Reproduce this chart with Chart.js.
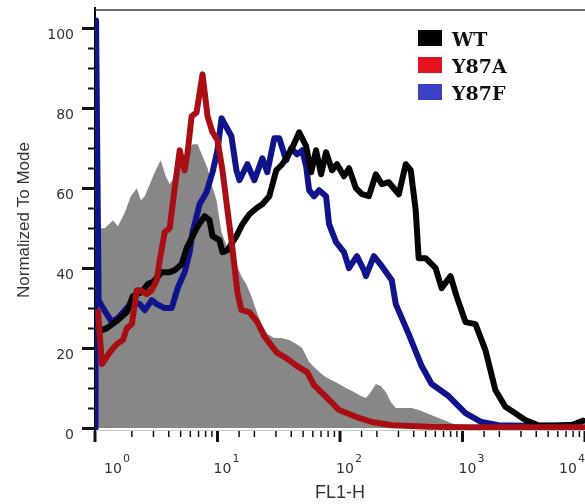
<!DOCTYPE html>
<html>
<head>
<meta charset="utf-8">
<script src="https://cdn.jsdelivr.net/npm/chart.js@4.4.1/dist/chart.umd.min.js"></script>
<style>
  html, body { margin: 0; padding: 0; background: #fff; }
  #wrap { width: 585px; height: 504px; position: relative; }
</style>
</head>
<body>
<div id="wrap"><canvas id="histChart"></canvas></div>
<script>
// FL1-H values (x) and % of mode (y)
const ctrlX = [1.0, 1.02, 1.206, 1.401, 1.538, 1.754, 1.962, 2.195, 2.366, 2.55, 2.8, 3.075, 3.44, 3.778, 4.072, 4.729, 5.494, 6.263, 6.878, 7.551, 8.294, 8.938, 9.815, 10.78, 12.06, 13.75, 15.67, 17.21, 18.9, 20.37, 22.8, 25.5, 29.07, 33.14, 38.49, 43.88, 49.11, 55.98, 65.02, 74.13, 84.51, 98.15, 111.9, 130, 148.2, 162.7, 178.6, 196.2, 215.4, 236.6, 259.8, 285.3, 331.4, 384.9, 438.8, 529.2, 638.2, 769.6, 928, 1119, 10000];
const ctrlY = [50, 50, 50, 52, 50.5, 54, 58, 60, 57, 58, 61, 64, 67, 63, 61, 64, 68, 71, 71, 68, 65, 61, 57, 49, 45, 42, 38, 36, 33, 30, 26, 23.5, 22.5, 22.5, 22, 21, 20, 16.5, 14.5, 13, 12, 11, 10, 9, 8, 7.5, 9, 11, 10.5, 9, 6.5, 5, 5, 5, 4.5, 3.5, 2.5, 1.5, 0.5, 0, 0];

const wtX = [1.14, 1.252, 1.538, 1.82, 2.037, 2.411, 2.697, 2.961, 3.505, 4.072, 4.472, 5.098, 5.598, 6.751, 7.841, 8.61, 9.106, 10.38, 10.98, 12.06, 14.27, 15.97, 18.2, 20.76, 23.22, 26.47, 30.18, 33.77, 39.97, 46.42, 52.92, 58.11, 63.8, 70.06, 76.96, 86.1, 94.54, 107.8, 118.4, 134.9, 151, 172.1, 196.2, 219.6, 250.2, 274.8, 301.8, 344, 377.7, 415, 438.8, 500.3, 603.3, 675.1, 798.9, 893.7, 1058, 1276, 1538, 1854, 2237, 2697, 3253, 4149, 6033, 7989, 9632];
const wtY = [24.5, 25, 27, 29, 33, 34, 36, 36.5, 39, 39, 39.5, 41, 45, 50, 53, 52, 48, 47, 44, 44.5, 48, 51, 53.5, 55, 56, 58, 64.5, 66, 69.5, 74, 70.5, 64, 69.5, 63.5, 69, 64.5, 66, 63, 65, 60, 58.5, 58, 63.5, 61, 61.5, 60, 58.5, 66, 64.5, 54.5, 42.5, 42.5, 40, 35, 38, 33, 26.5, 26, 19.5, 9.5, 5.3, 3.7, 2, 0.7, 0.5, 0.8, 1.8];

const y87aX = [1.06, 1.14, 1.324, 1.509, 1.689, 1.82, 2.0, 2.195, 2.322, 2.647, 2.906, 3.191, 3.377, 3.709, 4.072, 4.472, 4.912, 5.393, 5.704, 6.146, 6.751, 7.551, 8.294, 9.106, 10.0, 10.98, 12.06, 13.24, 14.54, 15.67, 18.2, 21.14, 24.11, 30.18, 36.39, 44.71, 53.92, 61.45, 76.96, 98.15, 134.9, 182, 264.8, 529.2, 1119, 10000];
const y87aY = [29, 16, 19, 21, 22, 25, 26, 34.5, 34.5, 33.5, 34.5, 37, 42, 49, 50, 60, 69.5, 64.5, 69, 78, 79, 88.5, 78, 74, 72, 64.5, 54.5, 45, 34, 29.5, 29, 26.5, 23, 19, 17.5, 15.5, 14, 10.7, 7.8, 4.5, 2.8, 1.5, 0.7, 0.3, 0.2, 0.2];

const y87fX = [1.01, 1.02, 1.07, 1.162, 1.375, 1.538, 1.754, 2.037, 2.322, 2.55, 2.906, 3.191, 3.709, 4.227, 4.729, 5.393, 5.922, 6.263, 7.141, 8.14, 9.106, 10.0, 10.78, 12.99, 14.27, 15.1, 17.54, 20.0, 23.22, 25.5, 29.07, 31.92, 36.39, 39.97, 44.71, 49.11, 52.92, 55.98, 61.45, 67.51, 76.96, 81.41, 92.8, 107.8, 118.4, 137.5, 156.7, 162.7, 189, 219.6, 264.8, 285.3, 363.9, 464.2, 559.8, 769.6, 1058, 1427, 1962, 4149, 7989, 9632];
const y87fY = [0, 102, 32, 30, 26.5, 27.5, 29.5, 31.5, 31, 29.5, 32, 31, 30, 30, 35, 39, 44, 49, 56, 59, 64, 69.5, 77.5, 73, 64.5, 62, 66, 62, 67.5, 64, 72.5, 72.5, 67, 70, 68.5, 69.5, 65.5, 59.5, 58, 59.5, 58, 51, 46.5, 44, 40, 43, 39.5, 38, 43, 40.5, 37, 31, 23.5, 15.5, 11, 8, 3.7, 1.5, 0.7, 0.5, 0.8, 1.8];

const legendLabels = ['WT', 'Y87A', 'Y87F'];
const legendColors = ['#000000', '#e3141e', '#3b41c5'];

const toPoints = (xs, ys) => xs.map((x, i) => ({ x: x, y: ys[i] }));

function lineSet(label, xs, ys, color, order) {
    return {
        label: label,
        data: toPoints(xs, ys),
        borderColor: color,
        borderWidth: 6,
        borderJoinStyle: 'round',
        borderCapStyle: 'round',
        pointRadius: 0,
        tension: 0,
        fill: false,
        order: order
    };
}

// axis lines, tick marks, superscript decade labels and the legend box
const axisDecor = {
    id: 'axisDecor',
    beforeDatasetsDraw(chart) {
        const { ctx, chartArea: a } = chart;
        ctx.save();
        ctx.strokeStyle = '#c8c8c8';
        ctx.lineWidth = 1;
        ctx.beginPath();
        ctx.moveTo(a.left, a.bottom + 0.5);
        ctx.lineTo(a.right, a.bottom + 0.5);
        ctx.stroke();
        ctx.strokeStyle = '#000';
        ctx.lineWidth = 2;
        ctx.beginPath();
        ctx.moveTo(a.left, a.top - 3);
        ctx.lineTo(a.left, a.bottom + 2);
        ctx.stroke();
        ctx.restore();
    },
    afterDraw(chart) {
        const { ctx, chartArea: a, scales: { x, y } } = chart;
        ctx.save();
        ctx.strokeStyle = '#3a3a3a';
        ctx.lineWidth = 1.5;
        ctx.beginPath();
        ctx.moveTo(a.left, a.top);
        ctx.lineTo(a.right, a.top);
        ctx.stroke();

        ctx.strokeStyle = '#111';
        y.ticks.forEach(t => {
            if (t.value < 0 || t.value % 5 !== 0) return;
            const py = Math.round(y.getPixelForValue(t.value)) + 0.5;
            const major = t.value % 20 === 0;
            ctx.lineWidth = major ? 3 : 2;
            ctx.beginPath();
            ctx.moveTo(a.left - (major ? 13 : 7), py);
            ctx.lineTo(a.left, py);
            ctx.stroke();
        });

        x.ticks.forEach(t => {
            const px = x.getPixelForValue(t.value);
            const e = Math.log10(t.value);
            const major = Math.abs(e - Math.round(e)) < 1e-6;
            ctx.strokeStyle = '#111';
            ctx.lineWidth = major ? 3 : 1.5;
            ctx.beginPath();
            ctx.moveTo(px, a.bottom + 1);
            ctx.lineTo(px, a.bottom + (major ? 12 : 7));
            ctx.stroke();
            if (!major) return;
            let cx = px + 5;
            if (t.value === x.min) cx = px + 18;
            if (t.value === x.max) cx = px - 17;
            ctx.fillStyle = '#333';
            ctx.textBaseline = 'alphabetic';
            ctx.font = '14px "DejaVu Sans"';
            ctx.textAlign = 'center';
            ctx.fillText('10', cx, a.bottom + 43);
            const w = ctx.measureText('10').width;
            ctx.font = '11px "DejaVu Sans"';
            ctx.textAlign = 'left';
            ctx.fillText(String(Math.round(e)), cx + w / 2 + 1, a.bottom + 32);
        });

        // legend
        ctx.font = 'bold 19px "DejaVu Serif"';
        ctx.textAlign = 'left';
        ctx.textBaseline = 'alphabetic';
        legendLabels.forEach((lab, i) => {
            const top = 30 + i * 27;
            ctx.fillStyle = legendColors[i];
            ctx.fillRect(418, top, 24, 16);
            ctx.fillStyle = '#111';
            ctx.fillText(lab, 452, top + 16);
        });
        ctx.restore();
    }
};

const ctx = document.getElementById('histChart').getContext('2d');
const histChart = new Chart(ctx, {
    type: 'line',
    data: {
        datasets: [
            lineSet('WT', wtX, wtY, '#050505', 2),
            lineSet('Y87A', y87aX, y87aY, '#a80f14', 1),
            lineSet('Y87F', y87fX, y87fY, '#10148a', 3),
            {
                label: 'Control',
                data: toPoints(ctrlX, ctrlY),
                borderWidth: 0,
                backgroundColor: '#878787',
                pointRadius: 0,
                tension: 0,
                fill: 'origin',
                order: 4
            }
        ]
    },
    options: {
        responsive: true,
        maintainAspectRatio: false,
        animation: false,
        layout: { padding: { left: 0, right: 0, top: 10, bottom: 0 } },
        plugins: {
            legend: { display: false },
            tooltip: { enabled: false }
        },
        scales: {
            x: {
                type: 'logarithmic',
                min: 1,
                max: 10000,
                grid: { display: false, drawTicks: false },
                border: { display: false },
                ticks: { display: false },
                title: {
                    display: true,
                    text: 'FL1-H',
                    color: '#333',
                    font: { family: 'Liberation Sans', size: 18 },
                    padding: { top: 0, bottom: 0 }
                },
                afterFit: s => { s.height = 74; s.paddingLeft = 0; s.paddingRight = 0; }
            },
            y: {
                min: -0.5,
                max: 104.6,
                grid: { display: false, drawTicks: false },
                border: { display: false },
                ticks: {
                    stepSize: 5,
                    includeBounds: false,
                    autoSkip: false,
                    padding: 21,
                    color: '#333',
                    font: { family: 'DejaVu Sans', size: 14, lineHeight: 1 },
                    // empty first line pushes each label a few px below its tick, as in the figure
                    callback: v => (v >= 0 && v % 20 === 0) ? ['', String(v)] : ''
                },
                title: {
                    display: true,
                    text: 'Normalized To Mode',
                    color: '#333',
                    font: { family: 'Liberation Sans', size: 17 },
                    padding: { top: 14, bottom: 0 }
                },
                afterFit: s => { s.width = 95; s.paddingTop = 0; s.paddingBottom = 0; }
            }
        }
    },
    plugins: [axisDecor]
});
</script>
</body>
</html>
